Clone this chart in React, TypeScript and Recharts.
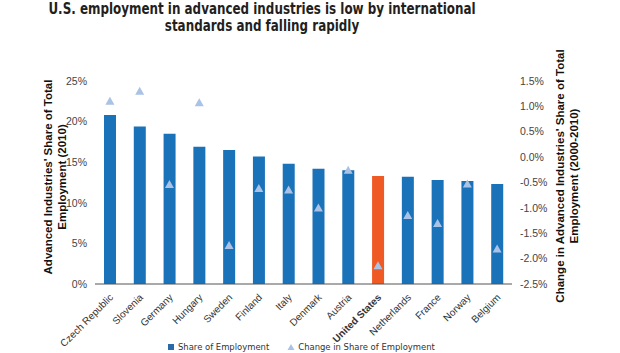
import { ComposedChart, Bar, Scatter, XAxis, YAxis, Cell } from 'recharts';

const countries = [
  'Czech Republic', 'Slovenia', 'Germany', 'Hungary', 'Sweden', 'Finland', 'Italy',
  'Denmark', 'Austria', 'United States', 'Netherlands', 'France', 'Norway', 'Belgium',
];
const shareOfEmployment = [20.8, 19.4, 18.5, 16.9, 16.5, 15.7, 14.8, 14.2, 14.0, 13.3, 13.2, 12.8, 12.7, 12.3];
const changeInShare = [1.09, 1.29, -0.55, 1.06, -1.75, -0.63, -0.66, -1.01, -0.27, -2.15, -1.16, -1.32, -0.54, -1.82];
const leftTicks = [0, 5, 10, 15, 20, 25];
const rightTicks = [-2.5, -2.0, -1.5, -1.0, -0.5, 0, 0.5, 1.0, 1.5];
const highlight = 'United States';

const data = countries.map((country, i) => ({
  country,
  share: shareOfEmployment[i],
  change: changeInShare[i],
}));

const BLUE = '#1a72b9';
const ORANGE = '#ef5a24';
const TRI = '#a9c2e6';
const font = '"Liberation Sans", Arial, sans-serif';
const condensed = '"DejaVu Sans Condensed", "DejaVu Sans", sans-serif';

const CountryTick = (props: any) => {
  const { x, y, payload } = props;
  const bold = payload.value === highlight;
  return (
    <text
      x={x + 4}
      y={y + 6}
      transform={`rotate(-45 ${x + 4} ${y + 6})`}
      textAnchor="end"
      fontSize={10}
      fontFamily={font}
      fontWeight={bold ? 700 : 400}
      fill="#333"
    >
      {payload.value}
    </text>
  );
};

const Triangle = (props: any) => {
  const { cx, cy } = props;
  if (cx == null || cy == null) return null;
  return <polygon points={`${cx},${cy - 5} ${cx - 4.5},${cy + 3} ${cx + 4.5},${cy + 3}`} fill={TRI} />;
};

export default function App() {
  return (
    <div style={{ position: 'absolute', left: 0, top: 0, width: 620, height: 353, background: '#fff', fontFamily: font }}>
      {/* title, squeezed to match the condensed face of the original */}
      <div
        style={{
          position: 'absolute',
          left: 262,
          top: 1,
          transform: 'translateX(-50%) scaleX(0.855)',
          whiteSpace: 'nowrap',
          textAlign: 'center',
          fontFamily: condensed,
          fontWeight: 700,
          fontSize: 15.5,
          lineHeight: '17px',
          color: '#231f20',
        }}
      >
        U.S. employment in advanced industries is low by international
        <br />
        standards and falling rapidly
      </div>
      <div
        style={{
          position: 'absolute',
          left: 55,
          top: 177,
          width: 240,
          transform: 'translate(-50%, -50%) rotate(-90deg)',
          textAlign: 'center',
          fontWeight: 700,
          fontSize: 11.5,
          lineHeight: '14px',
          color: '#111',
          whiteSpace: 'nowrap',
        }}
      >
        Advanced Industries' Share of Total
        <br />
        Employment (2010)
      </div>
      <div
        style={{
          position: 'absolute',
          left: 567,
          top: 176,
          width: 260,
          transform: 'translate(-50%, -50%) rotate(-90deg)',
          textAlign: 'center',
          fontWeight: 700,
          fontSize: 11.5,
          lineHeight: '14px',
          color: '#111',
          whiteSpace: 'nowrap',
        }}
      >
        Change in Advanced Industries' Share of Total
        <br />
        Employment (2000-2010)
      </div>
      <div style={{ position: 'absolute', left: 0, top: 0 }}>
        <ComposedChart width={620} height={353} data={data} margin={{ top: 81, right: 68, bottom: 9, left: 55 }} barCategoryGap={0}>
          <XAxis
            dataKey="country"
            interval={0}
            tick={<CountryTick />}
            tickLine={false}
            axisLine={{ stroke: '#555', strokeWidth: 1.2 }}
            height={60}
          />
          <YAxis
            yAxisId="left"
            domain={[0, 25]}
            ticks={leftTicks}
            tickFormatter={(v) => `${v}%`}
            axisLine={false}
            tickLine={false}
            width={40}
            tick={{ fontSize: 10.5, fill: '#444', fontFamily: font }}
            tickMargin={2}
          />
          <YAxis
            yAxisId="right"
            orientation="right"
            domain={[-2.5, 1.5]}
            ticks={rightTicks}
            tickFormatter={(v) => `${Number(v).toFixed(1)}%`}
            axisLine={false}
            tickLine={false}
            width={40}
            tick={{ fontSize: 10.5, fill: '#444', fontFamily: font }}
            tickMargin={2}
          />
          <Bar yAxisId="left" dataKey="share" barSize={12} isAnimationActive={false}>
            {data.map((d) => (
              <Cell key={d.country} fill={d.country === highlight ? ORANGE : BLUE} />
            ))}
          </Bar>
          <Scatter yAxisId="right" dataKey="change" shape={<Triangle />} isAnimationActive={false} />
        </ComposedChart>
      </div>
      <div
        style={{
          position: 'absolute',
          left: 168,
          top: 341,
          display: 'flex',
          alignItems: 'center',
          fontSize: 9.4,
          color: '#333',
          fontFamily: condensed,
        }}
      >
        <span style={{ display: 'inline-block', width: 6, height: 6, background: '#2a6aa8', marginRight: 4 }} />
        <span style={{ marginRight: 18 }}>Share of Employment</span>
        <svg width={8} height={8} style={{ marginRight: 3 }}>
          <polygon points="4,1 0.5,7 7.5,7" fill={TRI} />
        </svg>
        <span>Change in Share of Employment</span>
      </div>
    </div>
  );
}
